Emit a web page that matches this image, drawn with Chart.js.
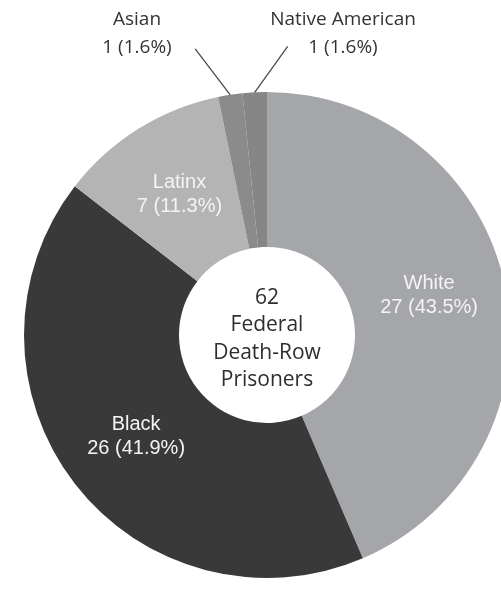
<!DOCTYPE html>
<html>
<head>
<meta charset="utf-8">
<script src="https://cdn.jsdelivr.net/npm/chart.js@4"></script>
<style>
  html, body { margin: 0; padding: 0; background: #fff; overflow: hidden; }
  #wrap { position: relative; width: 534px; height: 590px; }
</style>
</head>
<body>
<div id="wrap"><canvas id="doughnutChart" width="534" height="590"></canvas></div>
<script>
const groups = ['White', 'Black', 'Latinx', 'Asian', 'Native American'];
const counts = [27, 26, 7, 1, 1];
const shares = ['43.5%', '41.9%', '11.3%', '1.6%', '1.6%'];
const centerLines = ['62', 'Federal', 'Death-Row', 'Prisoners'];

const sliceColors = ['#a5a6a9', '#393939', '#b4b4b4', '#8b8b8b', '#868686'];

// labels: inside the ring for big slices, outside with a leader line for tiny ones
const labelPlugin = {
    id: 'labelPlugin',
    afterDatasetsDraw(chart) {
        const ctx = chart.ctx;
        const arcs = chart.getDatasetMeta(0).data;
        ctx.save();
        ctx.textAlign = 'center';
        ctx.textBaseline = 'middle';

        arcs.forEach((arc, i) => {
            const text2 = counts[i] + ' (' + shares[i] + ')';
            if (counts[i] > 2) {
                const pos = arc.tooltipPosition();
                const dy = i === 0 ? -6 : 0;
                ctx.fillStyle = '#f4f4f4';
                ctx.font = '20px "Liberation Sans", Arial, sans-serif';
                ctx.fillText(groups[i], pos.x, pos.y - 12 + dy);
                ctx.fillText(text2, pos.x, pos.y + 12 + dy);
            } else {
                const mid = (arc.startAngle + arc.endAngle) / 2;
                const r = arc.outerRadius;
                const x0 = arc.x + Math.cos(mid) * r;
                const y0 = arc.y + Math.sin(mid) * r;
                const left = i === 3;
                const x1 = x0 + (left ? -35 : 33);
                const y1 = y0 - 46;
                ctx.strokeStyle = '#4a4a4a';
                ctx.lineWidth = 1.3;
                ctx.beginPath();
                ctx.moveTo(x0, y0);
                ctx.lineTo(x1, y1);
                ctx.stroke();
                const lx = left ? 137 : 343;
                ctx.fillStyle = '#333';
                ctx.font = '19px "Open Sans", sans-serif';
                ctx.fillText(groups[i], lx, 20);
                ctx.fillText(text2, lx, 48);
            }
        });

        // centre caption
        const cx = arcs[0].x, cy = arcs[0].y;
        ctx.fillStyle = '#2e2e2e';
        ctx.font = '21px "Open Sans", sans-serif';
        centerLines.forEach((line, k) => {
            ctx.fillText(line, cx, cy - 37 + k * 27.5);
        });
        ctx.restore();
    }
};

const doughnutctx = document.getElementById('doughnutChart').getContext('2d');
const myDoughnutChart = new Chart(doughnutctx, {
    type: 'doughnut',
    data: {
        labels: groups,
        datasets: [{
            data: counts,
            backgroundColor: sliceColors,
            borderWidth: 0
        }]
    },
    options: {
        responsive: false,
        animation: false,
        cutout: 88,
        layout: { padding: { left: 24, right: 24, top: 92, bottom: 12 } },
        plugins: {
            legend: { display: false },
            tooltip: { enabled: false }
        }
    },
    plugins: [labelPlugin]
});
</script>
</body>
</html>
